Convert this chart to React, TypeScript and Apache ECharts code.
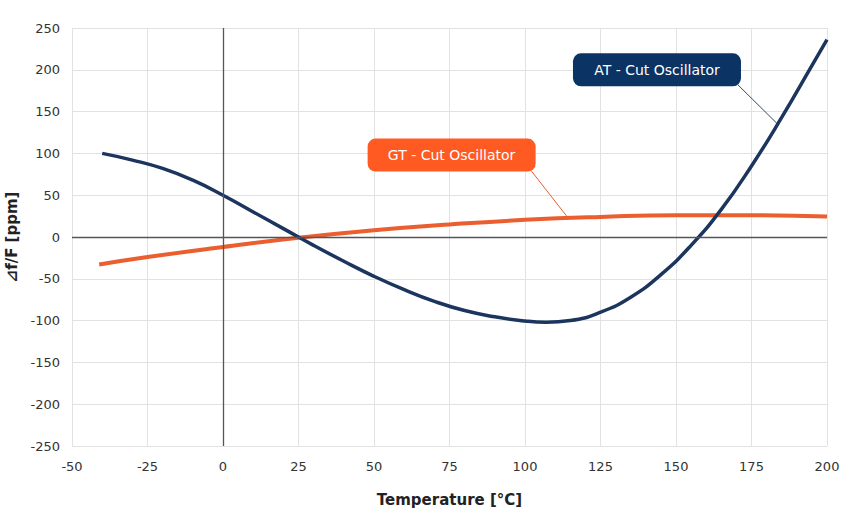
import React, { useEffect, useRef } from "react";
import * as echarts from "echarts";

const atTemps = [-40, -30, -20, -10, 0, 10, 20, 30, 40, 50, 60, 70, 80, 90, 100, 107, 115, 125, 135, 145, 155, 165, 175, 185, 195, 200];
const atValues = [100, 92, 82, 68, 50, 30, 10, -10, -29, -47, -63, -77, -88, -95.5, -100.5, -102, -100, -90, -72, -45, -10, 33, 85, 143, 205, 236];

const gtTemps = [-41, -25, 0, 25, 50, 75, 100, 125, 150, 175, 200];
const gtValues = [-33, -24, -12, -1, 8, 15, 20.5, 24, 26, 26, 24.5];

const xTicks = { min: -50, max: 200, interval: 25 };
const yTicks = { min: -250, max: 250, interval: 50 };

const atLabel = { text: "AT - Cut Oscillator", at: [143.7, 200], from: [170.5, 182], to: [183.4, 136] };
const gtLabel = { text: "GT - Cut Oscillator", at: [75.7, 98], from: [102, 79.5], to: [113.9, 24.5] };

const FONT = "'DejaVu Sans', sans-serif";
const NAVY = "#1c355e";
const NAVY_BOX = "#0b3363";
const ORANGE = "#eb5e30";
const ORANGE_BOX = "#ff5a22";

export default function App() {
  const ref = useRef<HTMLDivElement>(null);
  useEffect(() => {
    if (!ref.current) return;
    const chart = echarts.init(ref.current, null, { renderer: "svg" });
    const pair = (xs: number[], ys: number[]) => xs.map((x, i) => [x, ys[i]]);
    const labelPoint = (l: any, bg: string) => ({
      symbol: "rect",
      symbolSize: 1,
      itemStyle: { color: "rgba(0,0,0,0)" },
      label: {
        show: true,
        position: "inside",
        formatter: l.text,
        color: "#ffffff",
        fontFamily: FONT,
        fontSize: 14,
        backgroundColor: bg,
        borderRadius: 8,
        padding: [8, 10],
        width: 148,
        align: "center",
        lineHeight: 17,
      },
      data: [{ coord: l.at, value: l.text }],
    });
    const leader = (l: any, color: string) => ({
      symbol: "none",
      silent: true,
      label: { show: false },
      lineStyle: { color, width: 1, type: "solid" },
      data: [[{ coord: l.from }, { coord: l.to }]],
    });
    chart.setOption({
      animation: false,
      textStyle: { fontFamily: FONT },
      grid: { left: 72, right: 23, top: 28, bottom: 68, containLabel: false, outerBoundsMode: "none" },
      xAxis: {
        type: "value",
        ...xTicks,
        axisLine: { show: false },
        axisTick: { show: false },
        axisLabel: { color: "#333", fontSize: 13, margin: 14, fontFamily: FONT },
        splitLine: { show: true, lineStyle: { color: "#e2e2e2", width: 1 } },
        name: "Temperature [°C]",
        nameLocation: "middle",
        nameGap: 46,
        nameTextStyle: { color: "#222", fontSize: 15, fontWeight: "bold", fontFamily: FONT },
      },
      yAxis: {
        type: "value",
        ...yTicks,
        axisLine: { show: false },
        axisTick: { show: false },
        axisLabel: { color: "#333", fontSize: 13, margin: 12, fontFamily: FONT },
        splitLine: { show: true, lineStyle: { color: "#e2e2e2", width: 1 } },
        name: "⊿f/F [ppm]",
        nameLocation: "middle",
        nameGap: 46,
        nameTextStyle: { color: "#222", fontSize: 15, fontWeight: "bold", fontFamily: FONT },
      },
      series: [
        {
          name: "zero",
          type: "line",
          data: [],
          markLine: {
            symbol: "none",
            silent: true,
            label: { show: false },
            lineStyle: { color: "#555", width: 1.3, type: "solid" },
            data: [{ xAxis: 0 }, { yAxis: 0 }],
          },
        },
        {
          name: "GT - Cut Oscillator",
          type: "line",
          smooth: true,
          showSymbol: false,
          data: pair(gtTemps, gtValues),
          lineStyle: { color: ORANGE, width: 4 },
          itemStyle: { color: ORANGE },
          markLine: leader(gtLabel, ORANGE),
          markPoint: labelPoint(gtLabel, ORANGE_BOX),
          z: 3,
        },
        {
          name: "AT - Cut Oscillator",
          type: "line",
          smooth: true,
          showSymbol: false,
          data: pair(atTemps, atValues),
          lineStyle: { color: NAVY, width: 3.5 },
          itemStyle: { color: NAVY },
          markLine: leader(atLabel, "#2a4a6a"),
          markPoint: labelPoint(atLabel, NAVY_BOX),
          z: 4,
        },
      ],
    });
    return () => chart.dispose();
  }, []);
  return <div ref={ref} style={{ width: 850, height: 514, position: "absolute", left: 0, top: 0 }} />;
}
